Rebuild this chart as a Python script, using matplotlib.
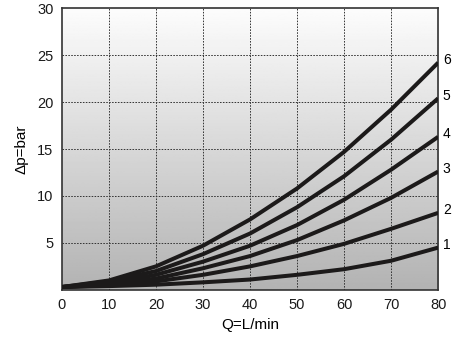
import numpy as np
import matplotlib.pyplot as plt

plt.rcParams['font.family'] = ['Liberation Sans', 'DejaVu Sans']

# flow rate, L/min
q = [0, 10, 20, 30, 40, 50, 60, 70, 80]
# pressure drop (bar) for curves 1..6
dp1 = [0.3, 0.4, 0.55, 0.8, 1.1, 1.6, 2.2, 3.1, 4.5]
dp2 = [0.3, 0.5, 0.9, 1.6, 2.5, 3.6, 4.9, 6.5, 8.2]
dp3 = [0.3, 0.6, 1.2, 2.3, 3.6, 5.3, 7.4, 9.8, 12.6]
dp4 = [0.3, 0.7, 1.6, 3.0, 4.7, 6.9, 9.6, 12.8, 16.3]
dp5 = [0.3, 0.9, 2.0, 3.8, 6.0, 8.8, 12.1, 16.0, 20.4]
dp6 = [0.3, 1.0, 2.5, 4.7, 7.5, 10.8, 14.7, 19.2, 24.2]
curves = [dp1, dp2, dp3, dp4, dp5, dp6]
names = ["1", "2", "3", "4", "5", "6"]

fig = plt.figure(figsize=(4.55, 3.41), dpi=100)
ax = fig.add_axes([0.136, 0.150, 0.827, 0.826])

# vertical gradient background
grad = np.linspace(0.70, 0.99, 256).reshape(-1, 1)
ax.imshow(grad, cmap='gray', vmin=0, vmax=1, origin='lower',
          extent=[0, 80, 0, 30], aspect='auto', zorder=0)

for x in range(10, 80, 10):
    ax.axvline(x, color='#333333', lw=0.7, ls=(0, (1.6, 1.4)), zorder=1)
for y in range(5, 30, 5):
    ax.axhline(y, color='#333333', lw=0.7, ls=(0, (1.6, 1.4)), zorder=1)

for d, n in zip(curves, names):
    ax.plot(q, d, color='#1c1a1a', lw=2.9, solid_capstyle='butt', zorder=3)
    ax.text(81.0, d[-1] + 0.3, n, fontsize=10, va='center', ha='left',
            clip_on=False)

ax.set_xlim(0, 80)
ax.set_ylim(0, 30)
ax.set_xticks(range(0, 81, 10))
ax.set_yticks([5, 10, 15, 20, 25, 30])
ax.tick_params(length=0, labelsize=10.5, pad=6, colors='#1a1a1a')
for s in ax.spines.values():
    s.set_color('#333333')
    s.set_linewidth(1.2)

ax.set_xlabel("Q=L/min", fontsize=11, labelpad=4)
ax.set_ylabel("\u0394p=bar", fontsize=11, labelpad=6)

fig.savefig("out.png", dpi=100)
